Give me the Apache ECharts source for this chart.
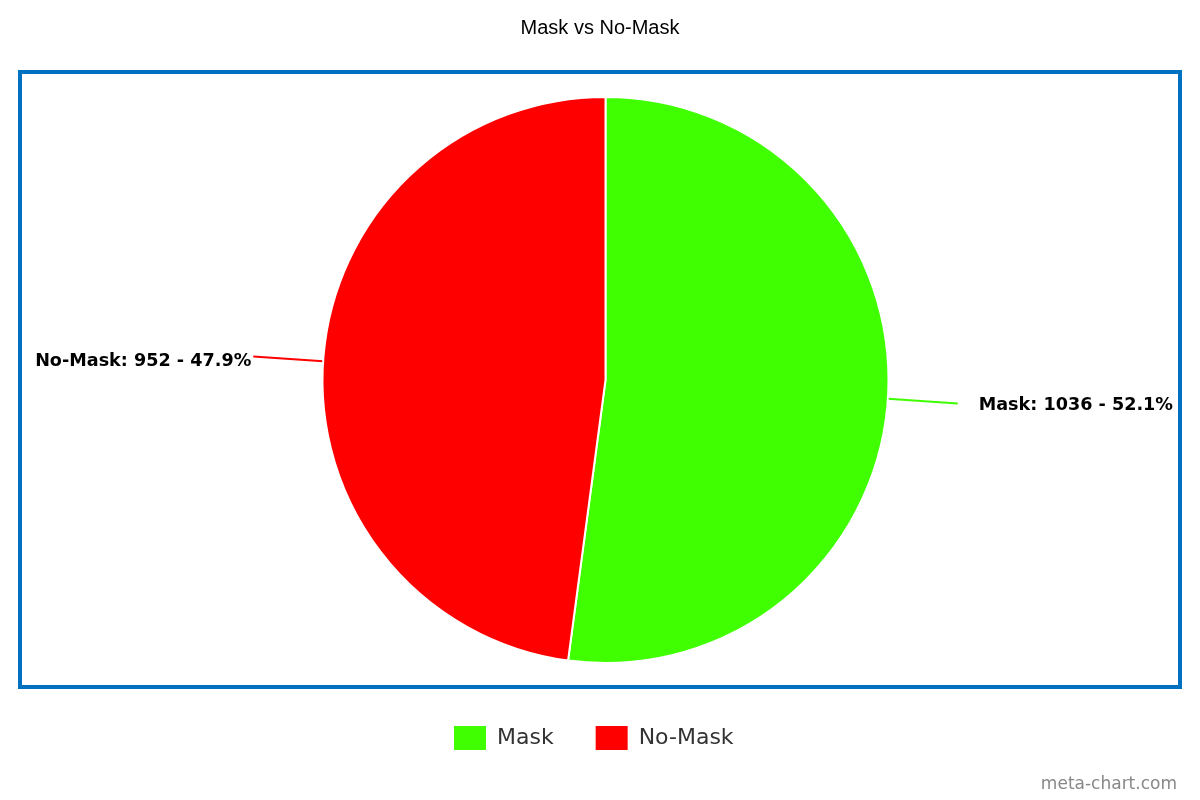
<!DOCTYPE html>
<html>
<head>
<meta charset="utf-8">
<script src="https://cdn.jsdelivr.net/npm/echarts@6/dist/echarts.min.js"></script>
<style>html,body{margin:0;padding:0;background:#fff;}#c{width:1200px;height:800px;}</style>
</head>
<body>
<div id="c"></div>
<script>
var categories = ['Mask', 'No-Mask'];
var values = [1036, 952];
var colors = ['#3FFF00', '#FF0000'];
var titleText = 'Mask vs No-Mask';
var watermark = 'meta-chart.com';

var chart = echarts.init(document.getElementById('c'), null, {renderer: 'canvas'});
var data = categories.map(function (n, i) {
  var item = {name: n, value: values[i], itemStyle: {color: colors[i]}};
  if (i === 0) item.label = {padding: [0, 0, 0, 21]};
  else item.label = {padding: [0, 2, 0, 0]};
  return item;
});
chart.setOption({
  animation: false,
  backgroundColor: '#fff',
  title: {
    text: titleText, left: 'center', top: 13,
    textStyle: {fontFamily: 'Liberation Sans', fontSize: 20, fontWeight: 'normal', color: '#000'}
  },
  legend: {
    bottom: 45, left: 449, itemWidth: 32, itemHeight: 24, itemGap: 42,
    icon: 'rect',
    itemStyle: {borderWidth: 0},
    textStyle: {fontFamily: 'DejaVu Sans', fontSize: 22, color: '#333', padding: [0, 0, 0, 6]},
    data: categories
  },
  graphic: [
    {type: 'rect', shape: {x: 20, y: 72, width: 1160, height: 615}, style: {fill: 'none', stroke: '#0070C0', lineWidth: 4}, z: -1},
    {type: 'text', right: 23, top: 776, style: {text: watermark, font: '17px "DejaVu Sans"', fill: '#888'}}
  ],
  series: [{
    type: 'pie',
    center: [605.5, 380],
    radius: 283,
    startAngle: 90,
    clockwise: true,
    percentPrecision: 1,
    avoidLabelOverlap: false,
    itemStyle: {borderColor: '#fff', borderWidth: 2},
    label: {
      show: true, position: 'outside',
      formatter: '{b}: {c} - {d}%',
      fontFamily: 'DejaVu Sans', fontWeight: 'bold', fontSize: 17.6, color: '#000',
      distanceToLabelLine: 0
    },
    labelLine: {show: true, length: 70, length2: 0, smooth: false, lineStyle: {width: 2}},
    labelLayout: function (params) {
      return {dy: params.dataIndex === 0 ? 2 : 5};
    },
    emphasis: {disabled: true},
    data: data
  }]
});
</script>
</body>
</html>
